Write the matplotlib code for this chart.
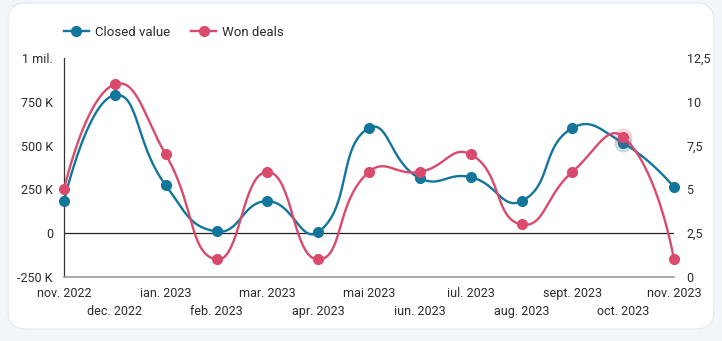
import numpy as np
import matplotlib
matplotlib.use("Agg")
import matplotlib.pyplot as plt
from matplotlib.patches import FancyBboxPatch
from matplotlib.lines import Line2D
from matplotlib.ticker import FixedLocator

plt.rcParams["font.family"] = ["Roboto", "DejaVu Sans"]

# ── Data ──
months = ["nov. 2022", "dec. 2022", "ian. 2023", "feb. 2023", "mar. 2023", "apr. 2023",
          "mai 2023", "iun. 2023", "iul. 2023", "aug. 2023", "sept. 2023", "oct. 2023",
          "nov. 2023"]
closed_value = [183000, 788000, 274000, 10000, 183000, 6000,
                600000, 314000, 320000, 183000, 600000, 514000, 263000]
won_deals = [5, 11, 7, 1, 6, 1, 6, 6, 7, 3, 6, 8, 1]

left_ticks = [-250000, 0, 250000, 500000, 750000, 1000000]
left_labels = ["-250 K", "0", "250 K", "500 K", "750 K", "1 mil."]
right_ticks = [0, 2.5, 5, 7.5, 10, 12.5]
right_labels = ["0", "2,5", "5", "7,5", "10", "12,5"]

BLUE = "#12769b"
RED = "#d94a6c"
TEXT = "#2b2b2b"


def smooth_path(ax, xs, ys, smooth=0.5, n=40):
    """Bezier smoothing done in screen space, then mapped back to data."""
    pts = ax.transData.transform(np.column_stack([xs, ys]))
    out = []
    k = len(pts)
    cps = []
    for i in range(k):
        p = pts[i]
        if i == 0 or i == k - 1:
            cps.append((p, p))
            continue
        prev, nxt = pts[i - 1], pts[i + 1]
        v = nxt - prev
        d0 = np.hypot(*(p - prev))
        d1 = np.hypot(*(nxt - p))
        s = d0 + d1
        cps.append((p - v * smooth * d0 / s, p + v * smooth * d1 / s))
    t = np.linspace(0, 1, n)[:, None]
    for i in range(k - 1):
        p0, p3 = pts[i], pts[i + 1]
        p1, p2 = cps[i][1], cps[i + 1][0]
        seg = ((1 - t) ** 3) * p0 + 3 * ((1 - t) ** 2) * t * p1 + 3 * (1 - t) * t ** 2 * p2 + t ** 3 * p3
        out.append(seg if i == 0 else seg[1:])
    out = np.vstack(out)
    data = ax.transData.inverted().transform(out)
    return data[:, 0], data[:, 1]


W, H = 722, 341
fig = plt.figure(figsize=(W / 100, H / 100), dpi=100)
fig.patch.set_facecolor("#f3f6f8")

# white card behind everything
card = FancyBboxPatch((8 / W, 12 / H), 706 / W, 326 / H,
                      boxstyle="round,pad=0,rounding_size=0.025",
                      transform=fig.transFigure, facecolor="white",
                      edgecolor="#e3e8ec", linewidth=0.8, zorder=-10,
                      mutation_aspect=W / H)
fig.patches.append(card)

ax = fig.add_axes([64 / W, 1 - 277 / H, 610 / W, 219 / H])
ax.set_facecolor("none")
ax2 = ax.twinx()
ax2.set_facecolor("none")

x = np.arange(len(months))
ax.set_xlim(0, len(months) - 1)
ax.set_ylim(-250000, 1000000)
ax2.set_ylim(0, 12.5)

# zero line
ax.axhline(0, color="#222222", linewidth=0.9, zorder=1)

# closed value (left axis)
sx, sy = smooth_path(ax, x, closed_value)
ax.plot(sx, sy, color=BLUE, linewidth=1.7, zorder=3, solid_capstyle="round", clip_on=False)
ax.plot(x, closed_value, "o", color=BLUE, markersize=7, zorder=4, clip_on=False)

# won deals (right axis)
rx, ry = smooth_path(ax2, x, won_deals)
ax2.plot(rx, ry, color=RED, linewidth=1.7, zorder=3, solid_capstyle="round", clip_on=False)
ax2.plot(x, won_deals, "o", color=RED, markersize=7, zorder=4, clip_on=False)

# hover glow on the october points
ax.plot(x[11], closed_value[11], "o", color=BLUE, markersize=12, alpha=0.18, zorder=2)
ax2.plot(x[11], won_deals[11], "o", color=RED, markersize=12, alpha=0.18, zorder=2)

# axes styling
for a in (ax, ax2):
    for side in ("top", "right"):
        a.spines[side].set_visible(False)
ax2.spines["left"].set_visible(False)
ax2.spines["bottom"].set_visible(False)
ax.spines["left"].set_color("#333333")
ax.spines["left"].set_linewidth(0.9)
ax.spines["bottom"].set_color("#9a9a9a")
ax.spines["bottom"].set_linewidth(1.2)

ax.yaxis.set_major_locator(FixedLocator(left_ticks))
ax.set_yticklabels(left_labels)
ax2.yaxis.set_major_locator(FixedLocator(right_ticks))
ax2.set_yticklabels(right_labels)

# month labels staggered on two rows: even months on major ticks, odd on minor
ax.set_xticks(x[::2])
ax.set_xticklabels(months[::2])
ax.set_xticks(x[1::2], minor=True)
ax.set_xticklabels(months[1::2], minor=True)

ax.tick_params(axis="y", length=0, pad=8, labelsize=9, labelcolor=TEXT)
ax2.tick_params(axis="y", length=0, pad=9, labelsize=9, labelcolor=TEXT)
ax.tick_params(axis="x", which="major", length=0, pad=7, labelsize=9, labelcolor=TEXT)
ax.tick_params(axis="x", which="minor", length=0, pad=20.5, labelsize=9, labelcolor=TEXT)

# legend
handles = [Line2D([], [], color=BLUE, linewidth=1.7, marker="o", markersize=7),
           Line2D([], [], color=RED, linewidth=1.7, marker="o", markersize=7)]
fig.legend(handles, ["Closed value", "Won deals"], loc="center left",
           bbox_to_anchor=(52 / W, 1 - 32 / H), ncol=2, frameon=False,
           fontsize=9.5, handlelength=1.9, handletextpad=0.45, columnspacing=1.6,
           labelcolor=TEXT)

fig.savefig("out.png", dpi=100, facecolor=fig.get_facecolor())
